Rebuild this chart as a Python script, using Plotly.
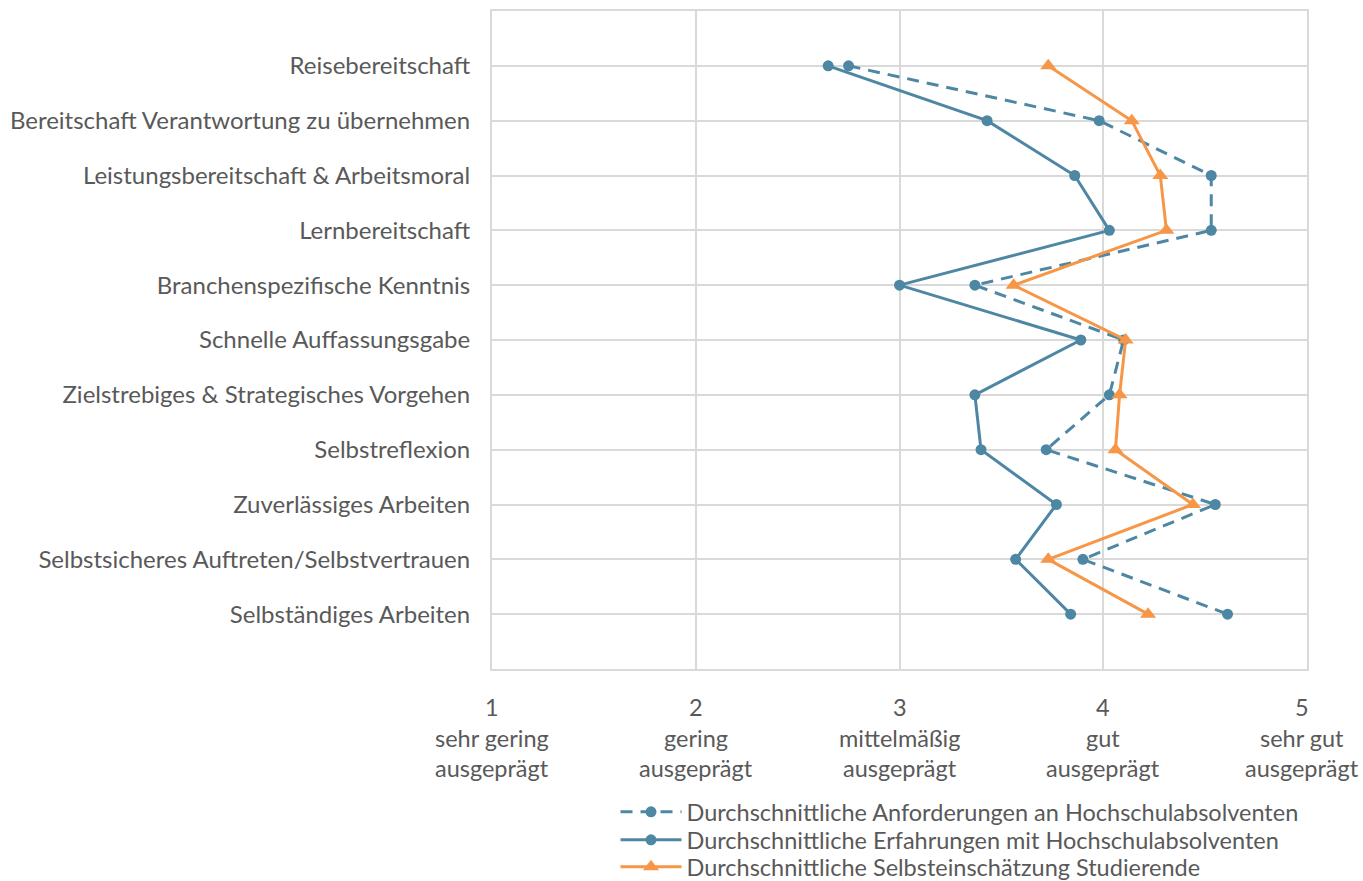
import plotly.graph_objects as go

# Kompetenzen (von oben nach unten)
kompetenzen = [
    "Reisebereitschaft",
    "Bereitschaft Verantwortung zu übernehmen",
    "Leistungsbereitschaft & Arbeitsmoral",
    "Lernbereitschaft",
    "Branchenspezifische Kenntnis",
    "Schnelle Auffassungsgabe",
    "Zielstrebiges & Strategisches Vorgehen",
    "Selbstreflexion",
    "Zuverlässiges Arbeiten",
    "Selbstsicheres Auftreten/Selbstvertrauen",
    "Selbständiges Arbeiten",
]

anforderungen = [2.75, 3.98, 4.53, 4.53, 3.37, 4.10, 4.03, 3.72, 4.55, 3.90, 4.61]
erfahrungen = [2.65, 3.43, 3.86, 4.03, 3.00, 3.89, 3.37, 3.40, 3.77, 3.57, 3.84]
selbsteinschaetzung = [3.73, 4.14, 4.28, 4.31, 3.56, 4.11, 4.08, 4.06, 4.44, 3.73, 4.22]

skala_werte = [1, 2, 3, 4, 5]
skala_texte = [
    ["sehr gering", "ausgeprägt"],
    ["gering", "ausgeprägt"],
    ["mittelmäßig", "ausgeprägt"],
    ["gut", "ausgeprägt"],
    ["sehr gut", "ausgeprägt"],
]

BLAU = "#4E87A4"
ORANGE = "#F79646"
GRAU_TEXT = "#595959"
GRAU_LINIE = "#D9D9D9"
FONT = "Lato"
W, H = 1363, 881

fig = go.Figure()

fig.add_trace(go.Scatter(
    x=anforderungen, y=kompetenzen, mode="lines+markers",
    name="Durchschnittliche Anforderungen an Hochschulabsolventen",
    line=dict(color=BLAU, width=3, dash="12px,8px"),
    marker=dict(symbol="circle", size=11, color=BLAU),
    legend="legend",
))
fig.add_trace(go.Scatter(
    x=erfahrungen, y=kompetenzen, mode="lines+markers",
    name="Durchschnittliche Erfahrungen mit Hochschulabsolventen",
    line=dict(color=BLAU, width=3),
    marker=dict(symbol="circle", size=11, color=BLAU),
    legend="legend2",
))
fig.add_trace(go.Scatter(
    x=selbsteinschaetzung, y=kompetenzen, mode="lines+markers",
    name="Durchschnittliche Selbsteinschätzung Studierende",
    line=dict(color=ORANGE, width=3),
    marker=dict(symbol="triangle-up", size=14, color=ORANGE),
    legend="legend3",
))

# Beschriftung der Bewertungsskala unter der x-Achse
for wert, (zeile1, zeile2) in zip(skala_werte, skala_texte):
    for text, shift in ((str(wert), -38), (zeile1, -69), (zeile2, -99)):
        fig.add_annotation(
            x=wert, y=0, xref="x", yref="paper", text=text, showarrow=False,
            yshift=shift, yanchor="middle", xanchor="center",
            xshift=-5 if wert == 5 else 0,
            font=dict(family=FONT, size=23.5, color=GRAU_TEXT),
        )


def legende(y_px):
    return dict(
        xref="container", yref="container",
        x=615.5 / W, y=1 - y_px / H, xanchor="left", yanchor="middle",
        font=dict(family=FONT, size=23.5, color=GRAU_TEXT),
        bgcolor="rgba(0,0,0,0)", itemwidth=61,
    )


fig.update_layout(
    width=W, height=H,
    margin=dict(l=492, r=56, t=11, b=212, autoexpand=False),
    paper_bgcolor="white", plot_bgcolor="white",
    font=dict(family=FONT, size=24, color=GRAU_TEXT),
    showlegend=True,
    legend=legende(812),
    legend2=legende(840),
    legend3=legende(867),
    xaxis=dict(
        range=[1, 5], dtick=1, tick0=1, automargin=False,
        showgrid=True, gridcolor=GRAU_LINIE, gridwidth=2,
        showline=True, linecolor=GRAU_LINIE, linewidth=2, mirror=True,
        showticklabels=False, zeroline=False, ticks="",
    ),
    yaxis=dict(
        type="category", categoryorder="array", categoryarray=kompetenzen,
        range=[11, -1], automargin=False,
        showgrid=True, gridcolor=GRAU_LINIE, gridwidth=2,
        showline=True, linecolor=GRAU_LINIE, linewidth=2, mirror=True,
        ticks="", ticklabelstandoff=15,
        tickfont=dict(family=FONT, size=24, color=GRAU_TEXT),
    ),
)

fig.write_html("out.html")
